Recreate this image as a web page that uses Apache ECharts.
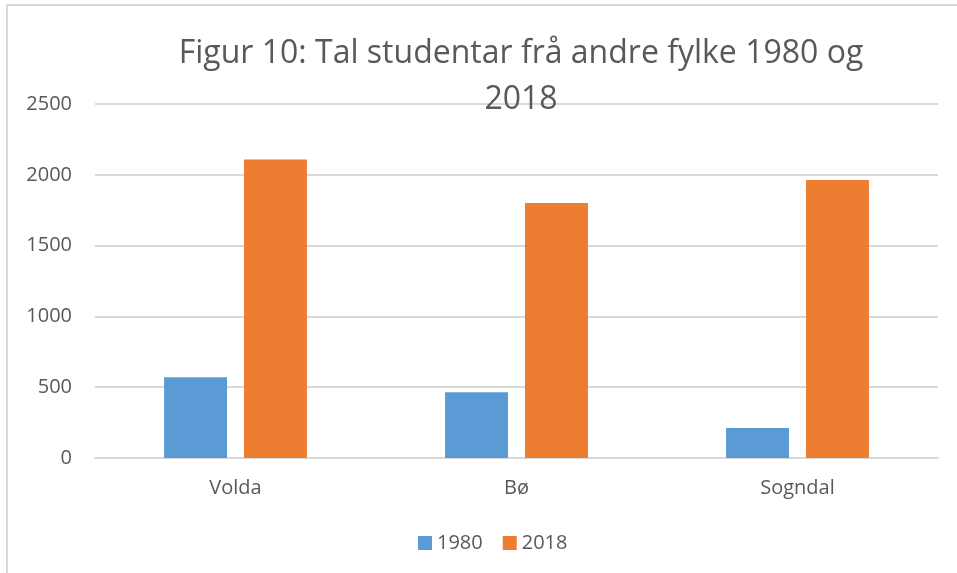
<!DOCTYPE html>
<html style="height: 100%">
<head>
<meta charset="utf-8">
</head>
<body style="height: 100%; margin: 0; background: #fff">
<div id="container" style="width: 957px; height: 573px"></div>
<script src="https://cdn.jsdelivr.net/npm/echarts@6/dist/echarts.min.js"></script>
<script>
// data
var stader = ['Volda', 'Bø', 'Sogndal'];
var aar1980 = [570, 465, 211];
var aar2018 = [2108, 1801, 1963];
var seriesNames = ['1980', '2018'];
var yTicks = [0, 500, 1000, 1500, 2000, 2500];

var textColor = '#595959';
var font = 'Open Sans';

var chart = echarts.init(document.getElementById('container'));

var option = {
    animation: false,
    backgroundColor: '#fff',
    title: {
        text: 'Figur 10: Tal studentar frå andre fylke 1980 og\n2018',
        left: 516,
        textAlign: 'center',
        top: 26,
        textStyle: {
            color: textColor,
            fontFamily: font,
            fontWeight: 'normal',
            fontSize: 32,
            lineHeight: 46
        }
    },
    graphic: [
        { type: 'line', shape: { x1: 6, y1: 5, x2: 957, y2: 5 }, style: { stroke: '#d9d9d9', lineWidth: 2 }, z: -1 },
        { type: 'line', shape: { x1: 7, y1: 5, x2: 7, y2: 573 }, style: { stroke: '#d9d9d9', lineWidth: 2 }, z: -1 }
    ],
    legend: {
        data: seriesNames,
        bottom: 15,
        left: 413,
        itemWidth: 14,
        itemHeight: 14,
        itemGap: 20,
        icon: 'rect',
        textStyle: { color: textColor, fontFamily: font, fontSize: 20 }
    },
    grid: {
        left: 95,
        right: 19,
        top: 104,
        bottom: 115
    },
    xAxis: {
        type: 'category',
        data: stader,
        axisLine: { lineStyle: { color: '#d9d9d9', width: 2 } },
        axisTick: { show: false },
        axisLabel: { color: textColor, fontFamily: font, fontSize: 20, margin: 20 }
    },
    yAxis: {
        type: 'value',
        min: yTicks[0],
        max: yTicks[yTicks.length - 1],
        interval: 500,
        axisLine: { show: false },
        axisTick: { show: false },
        splitLine: { lineStyle: { color: '#d9d9d9', width: 2 } },
        axisLabel: {
            color: textColor, fontFamily: font, fontSize: 20, margin: 23,
            formatter: function (v) { return String(v); }
        }
    },
    series: [
        {
            name: seriesNames[0],
            type: 'bar',
            data: aar1980,
            barWidth: '22.4%',
            barGap: '27%',
            itemStyle: { color: '#5b9bd5' }
        },
        {
            name: seriesNames[1],
            type: 'bar',
            data: aar2018,
            barWidth: '22.4%',
            barGap: '27%',
            itemStyle: { color: '#ed7d31' }
        }
    ]
};

chart.setOption(option);
</script>
</body>
</html>
